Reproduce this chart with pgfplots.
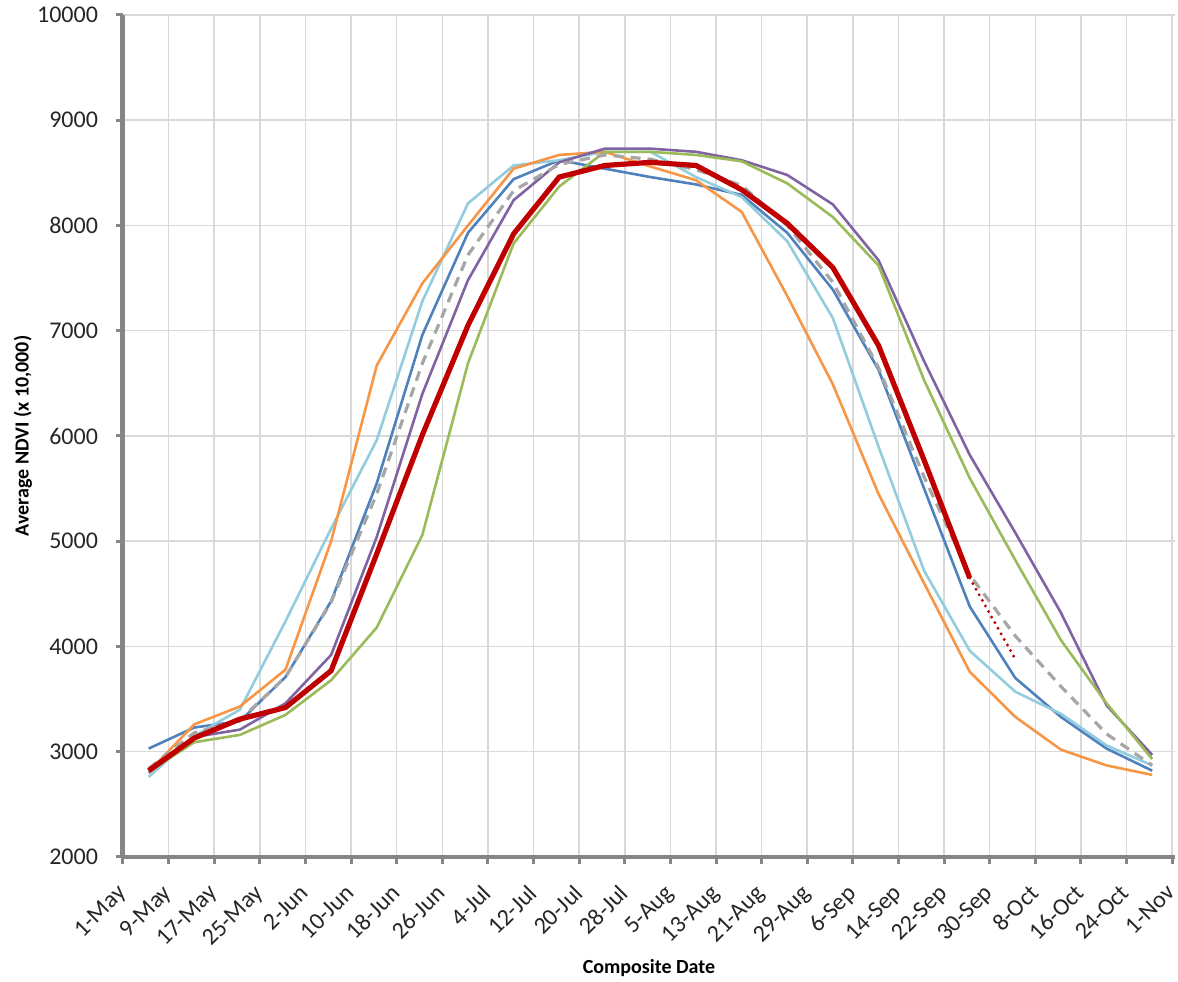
\documentclass[border=0pt]{standalone}
\usepackage{fontspec}
\setmainfont{Carlito}
\usepackage{pgfplots}
\usepackage{pgfplotstable}
\pgfplotsset{compat=1.18}

\definecolor{sblue}{HTML}{4F81BD}
\definecolor{lblue}{HTML}{93CDDD}
\definecolor{orng}{HTML}{F79646}
\definecolor{purp}{HTML}{8064A2}
\definecolor{grn}{HTML}{9BBB59}
\definecolor{avgray}{HTML}{A6A6A6}
\definecolor{dred}{HTML}{C00000}
\definecolor{axgray}{HTML}{868686}
\definecolor{gridgray}{HTML}{D9D9D9}

% day = days after 1 May (composite midpoints)
\pgfplotstableread{
day   blue  lblue orange purple green avg
4.5   3030  2760  2810   2800   2810  2840
12.5  3230  3150  3260   3140   3090  3180
20.5  3290  3400  3430   3210   3160  3300
28.5  3710  4240  3780   3460   3350  3710
36.5  4430  5120  5000   3920   3680  4420
44.5  5550  5960  6670   5040   4180  5450
52.5  6960  7280  7450   6400   5060  6690
60.5  7930  8210  8000   7480   6690  7720
68.5  8440  8570  8540   8240   7830  8330
76.5  8620  8620  8670   8600   8370  8580
84.5  8540  8700  8700   8730   8700  8670
92.5  8460  8700  8560   8730   8700  8630
100.5 8390  8460  8430   8700   8670  8530
108.5 8290  8270  8130   8620   8610  8380
116.5 7930  7850  7330   8480   8400  8000
124.5 7390  7120  6490   8200   8080  7460
132.5 6630  5900  5450   7670   7620  6650
140.5 5500  4720  4600   6710   6530  5610
148.5 4380  3960  3760   5820   5600  4680
156.5 3700  3570  3330   5080   4820  4100
164.5 3330  3360  3020   4320   4060  3620
172.5 3030  3060  2870   3440   3460  3170
180.5 2820  2870  2780   2970   2930  2870
}\ndvi

\pgfplotstableread{
day   cur
4.5   2820
12.5  3130
20.5  3310
28.5  3420
36.5  3770
44.5  4880
52.5  6010
60.5  7050
68.5  7920
76.5  8460
84.5  8570
92.5  8600
100.5 8570
108.5 8340
116.5 8020
124.5 7600
132.5 6860
140.5 5770
148.5 4650
}\current

\begin{document}
\begin{tikzpicture}
\begin{axis}[
    scale only axis,
    width=526pt, height=421pt,
    xmin=0, xmax=184.5,
    ymin=2000, ymax=10000,
    axis x line*=bottom, axis y line*=left,
    x axis line style={draw=axgray, line width=2pt, -},
    y axis line style={draw=axgray, line width=2.5pt, -},
    xtick={0,8,...,184},
    xticklabels={1-May,9-May,17-May,25-May,2-Jun,10-Jun,18-Jun,26-Jun,4-Jul,12-Jul,20-Jul,28-Jul,5-Aug,13-Aug,21-Aug,29-Aug,6-Sep,14-Sep,22-Sep,30-Sep,8-Oct,16-Oct,24-Oct,1-Nov},
    ytick={2000,3000,...,10000},
    scaled y ticks=false,
    yticklabel style={/pgf/number format/1000 sep={}, xshift=-5.5pt},
    /pgf/number format/assume math mode=true,
    tick label style={font=\fontsize{12}{14}\selectfont, black!85},
    x tick label style={xshift=-3.5pt, yshift=-8pt, rotate=45, anchor=north east, inner sep=1pt},
    tick align=outside,
    major tick length=3.5pt,
    every tick/.style={draw=axgray, line width=1.5pt},
    grid=major,
    major grid style={draw=gridgray, line width=0.75pt},
    xlabel={\textbf{Composite Date}},
    ylabel={\textbf{Average NDVI (x 10,000)}},
    label style={font=\fontsize{11.5}{13}\selectfont},
    every axis x label/.style={at={(axis description cs:0.5,0)}, anchor=center, yshift=-55.5pt},
    every axis y label/.style={at={(axis description cs:0,0.5)}, anchor=center, xshift=-50pt, rotate=90},
    clip=false,
]
\addplot[sblue, line width=1.3pt] table[x=day, y=blue] {\ndvi};
\addplot[lblue, line width=1.3pt] table[x=day, y=lblue] {\ndvi};
\addplot[orng, line width=1.3pt] table[x=day, y=orange] {\ndvi};
\addplot[purp, line width=1.3pt] table[x=day, y=purple] {\ndvi};
\addplot[grn, line width=1.3pt] table[x=day, y=green] {\ndvi};
\addplot[avgray, line width=1.6pt, dash pattern=on 5pt off 3.5pt] table[x=day, y=avg] {\ndvi};
\addplot[dred, line width=2.6pt] table[x=day, y=cur] {\current};
\addplot[dred, line width=1.6pt, dash pattern=on 0pt off 3.2pt, line cap=round] coordinates {(148.5,4650) (156.5,3880)};
\end{axis}
\pgfresetboundingbox
\path[use as bounding box] (current axis.south west) ++(-61.5pt,-62.5pt) rectangle ([xshift=1.5pt, yshift=7.5pt]current axis.north east);
\end{tikzpicture}
\end{document}
